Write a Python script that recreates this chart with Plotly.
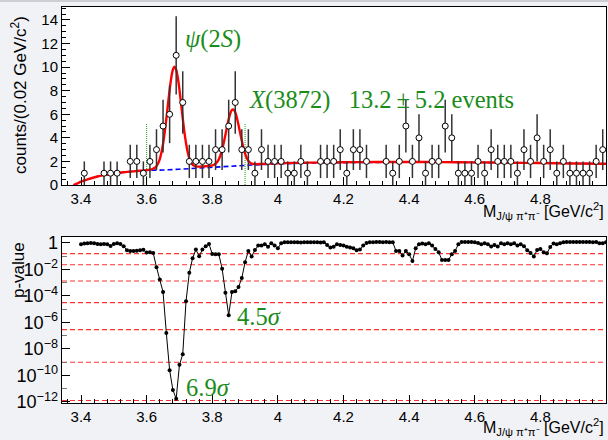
import numpy as np
import plotly.graph_objects as go

# ---------------- data: top panel (histogram, 0.02 GeV bins) ----------------
bin_centers = np.round(np.arange(3.41, 5.0, 0.02), 2)
counts = [1, 0, 0, 1, 1, 1, 0, 2, 2, 1,
          2, 3, 5, 6, 11, 7, 2, 2, 2, 2,
          3, 3, 5, 7, 3, 3, 1, 3, 2, 2,
          2, 1, 1, 2, 1, 0, 2, 2, 2, 3,
          1, 3, 3, 2, 0, 0, 2, 1, 2, 5,
          2, 4, 1, 2, 2, 5, 4, 1, 1, 1,
          2, 1, 3, 2, 2, 2, 1, 3, 2, 4,
          2, 3, 1, 2, 1, 1, 1, 1, 2, 3]

# total fit (red)
fit_mass = [3.377, 3.39, 3.40, 3.42, 3.45, 3.48, 3.50, 3.53, 3.56, 3.58, 3.60, 3.61,
            3.615, 3.62, 3.625, 3.63, 3.635, 3.64, 3.645, 3.65, 3.655, 3.66, 3.665,
            3.67, 3.675, 3.68, 3.685, 3.69, 3.695, 3.70, 3.705, 3.71, 3.715, 3.72,
            3.725, 3.73, 3.735, 3.74, 3.745, 3.75, 3.76, 3.77, 3.78, 3.79, 3.80,
            3.805, 3.81, 3.815, 3.82, 3.825, 3.83, 3.835, 3.84, 3.845, 3.85, 3.855,
            3.86, 3.865, 3.87, 3.875, 3.88, 3.885, 3.89, 3.895, 3.90, 3.905, 3.91,
            3.915, 3.92, 3.93, 3.95, 4.00, 4.10, 4.20, 4.30, 4.40, 4.50, 4.60,
            4.70, 4.80, 4.90, 5.00]
fit_total = [0.0, 0.15, 0.28, 0.48, 0.72, 0.88, 0.97, 1.08, 1.16, 1.21, 1.26, 1.30,
             1.33, 1.39, 1.47, 1.60, 1.84, 2.20, 2.75, 3.49, 4.46, 5.61, 6.85,
             8.06, 9.09, 9.78, 10.03, 9.79, 9.11, 8.09, 6.88, 5.65, 4.50, 3.55,
             2.80, 2.27, 1.93, 1.72, 1.63, 1.58, 1.56, 1.57, 1.59, 1.62, 1.66,
             1.72, 1.80, 1.95, 2.19, 2.54, 3.00, 3.58, 4.25, 4.94, 5.58, 6.08,
             6.37, 6.40, 6.17, 5.71, 5.08, 4.41, 3.75, 3.15, 2.67, 2.30, 2.05,
             1.90, 1.81, 1.77, 1.78, 1.84, 1.90, 1.93, 1.95, 1.95, 1.94, 1.92,
             1.89, 1.86, 1.83, 1.80]

# background (blue dashed)
bg_mass = [3.377, 3.39, 3.40, 3.42, 3.45, 3.48, 3.50, 3.53, 3.56, 3.60, 3.65, 3.70,
           3.75, 3.80, 3.85, 3.90, 3.95, 4.00, 4.10, 4.20, 4.30, 4.40, 4.50, 4.60,
           4.70, 4.80, 4.90, 5.00]
bg_values = [0.0, 0.15, 0.28, 0.48, 0.72, 0.88, 0.97, 1.08, 1.16, 1.24, 1.27, 1.34,
             1.42, 1.50, 1.58, 1.66, 1.73, 1.79, 1.86, 1.90, 1.92, 1.93, 1.93, 1.91,
             1.89, 1.86, 1.83, 1.80]

signal_window = [3.60, 3.90]
window_height = 5.2

# ---------------- data: bottom panel (local p-value scan) ----------------
scan_mass = np.round(np.arange(3.40, 5.0001, 0.01), 2)
scan_log10_p = [
    -0.10, -0.05, -0.03, 0.00, -0.02, -0.08, -0.10, -0.08, -0.10, -0.22,   # 3.40-3.49
    -0.08, -0.03, -0.08, -0.25, -0.55, -0.60, -0.60, -0.58, -0.55, -0.52,  # 3.50
    -0.72, -0.70, -0.75, -1.83, -2.75, -3.70, -6.80, -9.60, -11.10, -11.75,  # 3.60
    -9.20, -8.40, -4.40, -2.25, -1.15, -0.50, -1.00, -0.50, -0.25, -0.08,  # 3.70
    -0.83, -0.85, -0.85, -1.95, -3.75, -5.45, -3.70, -3.65, -3.33, -2.65,  # 3.80
    -1.45, -0.60, -1.03, -0.53, -0.20, -0.20, -0.10, -0.28, -0.02, -0.20,  # 3.90
    -0.40, -0.02, 0.05, 0.05, 0.06, 0.05, 0.06, 0.04, 0.05, 0.06,          # 4.00
    0.05, 0.06, 0.05, 0.04, 0.05, -0.15, -0.35, -0.28, -0.10, -0.15,       # 4.10
    -0.20, -0.28, -0.35, -0.40, -0.55, -0.50, -0.20, 0.00, 0.05, 0.06,     # 4.20
    0.07, 0.07, 0.06, 0.07, 0.06, 0.06, -0.60, -0.60, -0.95, -0.60,        # 4.30
    -0.85, -1.36, -0.40, -0.10, -0.05, -0.10, -0.02, -0.20, -0.45, -0.70,  # 4.40
    -1.28, -1.28, -1.28, -0.85, -0.60, -0.10, 0.08, 0.08, 0.07, 0.07,      # 4.50
    0.05, 0.00, -0.10, -0.02, -0.10, -0.27, -0.15, -0.27, -0.02, -0.10,    # 4.60
    -0.02, -0.10, -0.02, -0.20, -0.10, -0.25, -0.55, -0.75, -1.03, -0.53,  # 4.70
    -0.45, -0.70, -0.78, -0.30, -0.05, -0.10, -0.02, 0.05, 0.07, 0.08,     # 4.80
    0.07, 0.08, 0.08, 0.07, 0.08, 0.07, 0.06, 0.07, -0.02, -0.02,          # 4.90
    0.05,                                                                   # 5.00
]
scan_pvalue = [10 ** v for v in scan_log10_p]

# one-sided p-values for 1..7 sigma
sigma_pvalues = [1.587e-1, 2.275e-2, 1.35e-3, 3.17e-5, 2.87e-7, 9.87e-10, 1.28e-12]

x_range = [3.342, 5.0]

# ---------------- figure ----------------
W, H = 608, 440
def px(x):
    return x / W
def py(y):
    return 1 - y / H

fig = go.Figure()

shown_x = [m for m, c in zip(bin_centers, counts) if c > 0]
shown_y = [c for c in counts if c > 0]
shown_err = [float(np.sqrt(c)) for c in shown_y]

# signal window lines
for xw in signal_window:
    fig.add_trace(go.Scatter(x=[xw, xw], y=[0, window_height], mode="lines",
                             line=dict(color="#1a9a1a", width=1, dash="1px,1px"),
                             xaxis="x", yaxis="y", showlegend=False, hoverinfo="skip"))

fig.add_trace(go.Scatter(x=bg_mass, y=bg_values, mode="lines",
                         line=dict(color="#0000ff", width=1.6, dash="5px,3px", shape="spline"),
                         xaxis="x", yaxis="y", showlegend=False))
fig.add_trace(go.Scatter(x=fit_mass, y=fit_total, mode="lines",
                         line=dict(color="#ff0000", width=2.4, shape="spline", smoothing=0.6),
                         xaxis="x", yaxis="y", showlegend=False))
fig.add_trace(go.Scatter(x=shown_x, y=shown_y, mode="markers",
                         marker=dict(symbol="circle", size=6, color="white",
                                     line=dict(color="black", width=1)),
                         error_y=dict(type="data", array=shown_err, visible=True,
                                      color="#333333", thickness=1.5, width=0),
                         xaxis="x", yaxis="y", showlegend=False))

# bottom panel
for p in sigma_pvalues:
    fig.add_trace(go.Scatter(x=x_range, y=[p, p], mode="lines",
                             line=dict(color="#ff3030", width=1.2, dash="5px,3px"),
                             xaxis="x2", yaxis="y2", showlegend=False, hoverinfo="skip"))
fig.add_trace(go.Scatter(x=scan_mass, y=scan_pvalue, mode="lines+markers",
                         line=dict(color="black", width=1),
                         marker=dict(color="black", size=4),
                         xaxis="x2", yaxis="y2", showlegend=False))

tickfont = dict(family="Liberation Sans, Arial, sans-serif", size=15, color="black")
ytickfont = dict(family="Liberation Sans, Arial, sans-serif", size=14.5, color="black")
common_x = dict(range=x_range, tick0=3.4, dtick=0.2, ticks="inside", ticklen=8,
                tickcolor="black", showline=True, linecolor="black", linewidth=1,
                mirror=True, showgrid=False, zeroline=False, tickfont=tickfont,
                automargin=False,
                minor=dict(dtick=0.04, ticks="inside", ticklen=4, tickcolor="black"),
                domain=[px(62), px(606)])

fig.update_layout(
    width=W, height=H,
    margin=dict(l=0, r=0, t=0, b=0, autoexpand=False),
    paper_bgcolor="#f1f2f6", plot_bgcolor="white",
    xaxis=dict(**common_x, anchor="y"),
    yaxis=dict(range=[0, 15.1], tick0=0, dtick=2, ticks="inside", ticklen=8,
               tickcolor="black", showline=True, linecolor="black", linewidth=1,
               mirror=True, showgrid=False, zeroline=False, tickfont=tickfont,
               automargin=False,
               minor=dict(dtick=0.5, ticks="inside", ticklen=4, tickcolor="black"),
               domain=[py(185), py(7)], anchor="x"),
    xaxis2=dict(**common_x, anchor="y2"),
    yaxis2=dict(type="log", range=[-12.08, 0.45], tick0=0, dtick=2, ticks="inside",
                ticklen=8, tickcolor="black", showline=True, linecolor="black",
                linewidth=1, mirror=True, showgrid=False, zeroline=False,
                exponentformat="power", tickfont=ytickfont, automargin=False,
                minor=dict(dtick=1, ticks="inside", ticklen=5, tickcolor="#777777"),
                domain=[py(403), py(237)], anchor="x2"),
    shapes=[dict(type="rect", xref="paper", yref="paper", x0=0, x1=1,
                 y0=py(2), y1=1, fillcolor="#cdced3", line=dict(width=0), layer="above")],
)

green = "#1a8c1a"
serif = "Liberation Serif, Times New Roman, serif"
sans = "Liberation Sans, Arial, sans-serif"
gsize = 24.5
annots = [
    dict(x=3.7105, y=12.35, xref="x", yref="y", xanchor="left", yanchor="middle",
         text="<i>ψ</i>(2<i>S</i>)", font=dict(family=serif, size=gsize, color=green)),
    dict(x=3.905, y=7.25, xref="x", yref="y", xanchor="left", yanchor="middle",
         text="<i>X</i>(3872)\u00a0\u00a0 13.2\u2009±\u20095.2 events",
         font=dict(family=serif, size=gsize, color=green)),
    dict(x=3.868, y=-5.55, xref="x2", yref="y2", xanchor="left", yanchor="middle",
         text="4.5<i>σ</i>", font=dict(family=serif, size=gsize, color=green)),
    dict(x=3.714, y=-10.9, xref="x2", yref="y2", xanchor="left", yanchor="middle",
         text="6.9<i>σ</i>", font=dict(family=serif, size=gsize, color=green)),
    dict(x=px(19), y=py(95), xref="paper", yref="paper", xanchor="center",
         yanchor="middle", textangle=-90, text="counts/(0.02 GeV/c<sup>2</sup>)",
         font=dict(family=sans, size=17, color="black")),
    dict(x=px(18), y=py(270), xref="paper", yref="paper", xanchor="center",
         yanchor="middle", textangle=-90, text="p-value",
         font=dict(family=sans, size=17, color="black")),
    dict(x=px(606), y=py(211), xref="paper", yref="paper", xanchor="right",
         yanchor="middle", text="M<sub>J/ψ π⁺π⁻</sub> [GeV/c<sup>2</sup>]",
         font=dict(family=sans, size=16, color="black")),
    dict(x=px(606), y=py(427), xref="paper", yref="paper", xanchor="right",
         yanchor="middle", text="M<sub>J/ψ π⁺π⁻</sub> [GeV/c<sup>2</sup>]",
         font=dict(family=sans, size=16, color="black")),
]
for a in annots:
    a["showarrow"] = False
fig.update_layout(annotations=annots)

fig.write_html("out.html",
               config={"displayModeBar": False},
               post_script="document.body.style.margin='0px';"
                           "document.body.style.padding='0px';"
                           "document.body.style.background='#f1f2f6';")
